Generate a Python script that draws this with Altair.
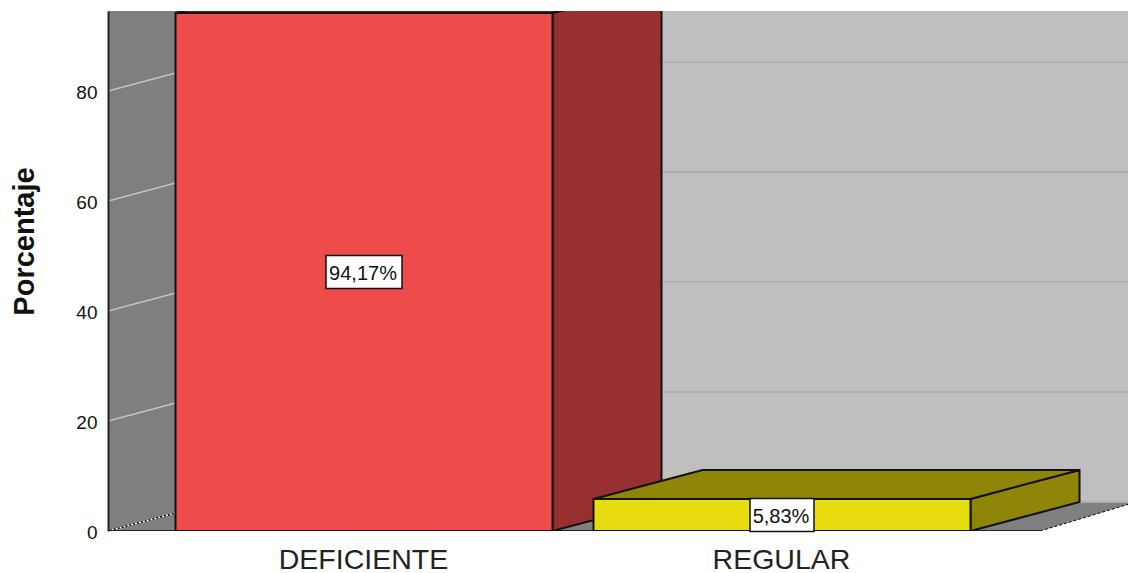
import altair as alt
import pandas as pd

categories = ["DEFICIENTE", "REGULAR"]
values = [94.17, 5.83]
labels = ["94,17%", "5,83%"]
ticks = [0, 20, 40, 60, 80]

FRONT = ["#EE4B4B", "#E6DC0F"]
SHADE = ["#973030", "#8F8508"]
TOP_SHADE = ["#6E1F1F", "#8F8508"]

WIDTH, HEIGHT = 1020, 520
RIGHT = 1028
YMAX = 94.55
FIRST_CENTER, STEP, BAR_W = 256, 418, 377
DX, DY = 109, 5.27
BOX_W = [76, 64]
BOX_H = 6.0

FONT = "Liberation Sans"

bars_x = [FIRST_CENTER + i * STEP for i in range(len(categories))]
label_expr = " : ".join(f"datum.value == {c} ? '{n}'" for c, n in zip(bars_x, categories)) + " : ''"

x_scale = alt.Scale(domain=[0, WIDTH], nice=False, zero=False)
y_scale = alt.Scale(domain=[0, YMAX], nice=False, zero=False)

x_axis = alt.Axis(values=bars_x, labelExpr=label_expr, domain=False, ticks=False, grid=False,
                  labelFont=FONT, labelFontSize=28.5, labelColor="#222222", labelPadding=14,
                  labelOffset=-1, labelFlush=False, labelOverlap=False, title=None)
y_axis = alt.Axis(values=ticks, format="d", domain=True, domainColor="#222222", domainWidth=2,
                  ticks=False, grid=False, labelFont=FONT, labelFontSize=19, labelColor="#111111",
                  labelPadding=11, labelOffset=1, zindex=1, title="Porcentaje", titleFont=FONT,
                  titleFontSize=29, titleFontWeight="bold", titleColor="#111111", titleX=-84,
                  titleY=230, titleAlign="center", titleBaseline="middle", titleAngle=270)


def X(field="x:Q"):
    return alt.X(field, scale=x_scale, axis=x_axis)


def Y(field="y:Q"):
    return alt.Y(field, scale=y_scale, axis=y_axis)


def face(points, fill, stroke=None, sw=2):
    """points: (x, lower, upper)"""
    df = pd.DataFrame(points, columns=["x", "y", "y2"])
    kw = dict(stroke=stroke, strokeWidth=sw) if stroke else dict(strokeWidth=0)
    return alt.Chart(df).mark_area(clip=True, color=fill, orient="vertical", opacity=1, **kw).encode(
        x=X(), y=Y(), y2="y2:Q"
    )


def line(points, color, sw=1.5, dash=None):
    df = pd.DataFrame(points, columns=["x", "y", "g"])
    kw = dict(strokeDash=dash) if dash else {}
    return alt.Chart(df).mark_line(clip=True, color=color, strokeWidth=sw, **kw).encode(
        x=X(), y=Y(), detail="g:N", order="o:Q"
    ).transform_window(o="row_number()", groupby=["g"])


layers = []

# floor, side wall, back wall
layers.append(face([(0, 0, 0), (DX, 0, DY), (RIGHT - 96, 0, DY), (RIGHT, DY, DY)], "#808080"))
layers.append(face([(0, 0, YMAX), (DX, DY, YMAX)], "#7F7F7F"))
layers.append(face([(DX, DY, YMAX), (RIGHT, DY, YMAX)], "#BFBFBF"))

# grid lines
side = []
back = []
for t in ticks:
    if t > 0:
        side += [(0, t, t), (DX, t + DY, t)]
    back += [(DX, t + DY, t), (RIGHT, t + DY, t)]
layers.append(line(side, "#C4C4C4", 1.5))
layers.append(line(back, "#AFAFAF", 2))
layers.append(line([(0, 0, 0), (DX, DY, 0)], "#111111", 1.5))
layers.append(line([(0, 0, 0), (DX, DY, 0)], "#FFFFFF", 1.5, [2, 2]))
layers.append(line([(RIGHT - 96, 0, 0), (RIGHT, DY, 0)], "#000000", 1, [3, 2]))
layers.append(line([(0, 0, 0), (RIGHT - 96, 0, 0)], "#222222", 2))

# bars
for c, v, front, shade, top_shade in zip(bars_x, values, FRONT, SHADE, TOP_SHADE):
    x0, x1 = c - BAR_W / 2, c + BAR_W / 2
    layers.append(face([(x1, 0, v), (x1 + DX, DY, v + DY)], shade, "#111111"))
    layers.append(face([(x0, v, v), (x0 + DX, v, v + DY), (x1, v, v + DY), (x1 + DX, v + DY, v + DY)],
                       top_shade, "#111111"))
    layers.append(
        alt.Chart(pd.DataFrame({"x": [x0], "x2": [x1], "y": [0], "y2": [v]}))
        .mark_rect(color=front, stroke="#111111", strokeWidth=2, clip=True)
        .encode(x=X(), x2="x2:Q", y=Y(), y2="y2:Q")
    )

# value boxes
box = pd.DataFrame({
    "x": [c - w / 2 for c, w in zip(bars_x, BOX_W)],
    "x2": [c + w / 2 for c, w in zip(bars_x, BOX_W)],
    "y": [v / 2 - BOX_H / 2 for v in values],
    "y2": [v / 2 + BOX_H / 2 for v in values],
    "c": bars_x,
    "m": [v / 2 for v in values],
    "t": labels,
})
layers.append(
    alt.Chart(box).mark_rect(color="#FFFFFF", stroke="#111111", strokeWidth=1.5)
    .encode(x=X(), x2="x2:Q", y=Y(), y2="y2:Q")
)
layers.append(
    alt.Chart(box).mark_text(font=FONT, fontSize=20, color="#111111", baseline="middle", align="center",
                             dx=-1, dy=2)
    .encode(x=X("c:Q"), y=Y("m:Q"), text="t:N")
)

chart = (
    alt.layer(*layers)
    .properties(
        width=WIDTH,
        height=HEIGHT,
        padding={"left": 100, "top": 3, "right": 0, "bottom": 44},
        autosize=alt.AutoSizeParams(type="none"),
        background="#FFFFFF",
    )
    .configure_view(stroke=None)
)

chart.save("out.html", embed_options={"renderer": "svg", "actions": False})
